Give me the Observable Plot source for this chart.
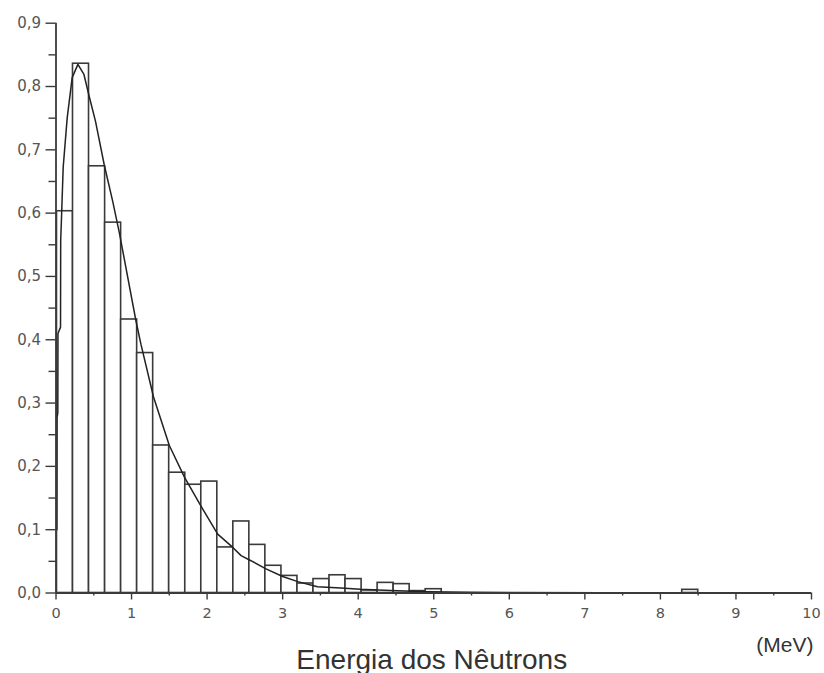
<!DOCTYPE html>
<html>
<head>
<meta charset="utf-8">
<script src="https://cdn.jsdelivr.net/npm/d3@7"></script>
<script src="https://cdn.jsdelivr.net/npm/@observablehq/plot@0.6"></script>
<style>
  html, body { margin: 0; padding: 0; background: #fff; }
</style>
</head>
<body>
<div id="chart"></div>
<script>
// Histogram bins (MeV): left and right edges, and normalized heights
const binLeft  = [0.013, 0.225, 0.437, 0.650, 0.862, 1.074, 1.286, 1.498, 1.711, 1.923, 2.135, 2.347,
                  2.559, 2.771, 2.984, 3.196, 3.408, 3.620, 3.832, 4.045, 4.257, 4.469, 4.681, 4.893, 8.289];
const binRight = [0.225, 0.437, 0.650, 0.862, 1.074, 1.286, 1.498, 1.711, 1.923, 2.135, 2.347, 2.559,
                  2.771, 2.984, 3.196, 3.408, 3.620, 3.832, 4.045, 4.257, 4.469, 4.681, 4.893, 5.105, 8.501];
const binHeight = [0.603, 0.836, 0.674, 0.585, 0.432, 0.379, 0.233, 0.190, 0.171, 0.176, 0.072, 0.113,
                   0.076, 0.043, 0.027, 0.015, 0.022, 0.028, 0.022, 0.004, 0.016, 0.014, 0.003, 0.006, 0.005];

// Fitted spectrum curve
const curveE = [0.012, 0.014, 0.024, 0.026, 0.060, 0.062, 0.073, 0.095, 0.148, 0.214, 0.290, 0.370, 0.434,
                0.523, 0.639, 0.750, 0.840, 1.058, 1.124, 1.290, 1.500, 1.700, 1.900, 2.140, 2.340,
                2.450, 2.580, 2.780, 3.000, 3.200, 3.460, 3.770, 4.030, 4.430, 4.920, 5.500, 8.500];
const curveV = [0.100, 0.277, 0.285, 0.410, 0.420, 0.556, 0.593, 0.672, 0.750, 0.814, 0.835, 0.819, 0.787,
                0.745, 0.676, 0.619, 0.568, 0.430, 0.393, 0.310, 0.233, 0.183, 0.141, 0.093, 0.072,
                0.059, 0.051, 0.038, 0.026, 0.018, 0.010, 0.008, 0.006, 0.004, 0.002, 0.001, 0.000];

const xMajor = [0, 1, 2, 3, 4, 5, 6, 7, 8, 9, 10];
const xMinor = [0.5, 1.5, 2.5, 3.5, 4.5, 5.5, 6.5, 7.5, 8.5, 9.5];
const yMajor = [0, 0.1, 0.2, 0.3, 0.4, 0.5, 0.6, 0.7, 0.8, 0.9];
const yMinor = [0.05, 0.15, 0.25, 0.35, 0.45, 0.55, 0.65, 0.75, 0.85];

const xUnit = "(MeV)";
const title = "Energia dos Nêutrons";

const bars = binLeft.map((l, i) => ({x1: l, x2: binRight[i], y: binHeight[i]}));
const curve = curveE.map((e, i) => ({e, v: curveV[i]}));

const comma = d => d.toFixed(1).replace(".", ",");
const ink = "#3a3a3a";

const chart = Plot.plot({
  width: 824,
  height: 673,
  marginLeft: 55.5,
  marginRight: 13,
  marginTop: 22.7,
  marginBottom: 80.5,
  style: {fontFamily: "DejaVu Sans", fontSize: "14.5px", color: "#555", background: "#fff"},
  x: {domain: [0, 10]},
  y: {domain: [0, 0.9]},
  marks: [
    Plot.rectY(bars, {x1: "x1", x2: "x2", y: "y", fill: "#fff", stroke: ink, strokeWidth: 1.6}),
    Plot.line(curve, {x: "e", y: "v", stroke: "#222", strokeWidth: 1.5}),
    Plot.ruleX([0], {stroke: ink, strokeWidth: 1.8}),
    Plot.ruleY([0], {stroke: ink, strokeWidth: 1.8}),
    Plot.axisY(yMajor, {tickSize: 10, tickPadding: 5, tickFormat: comma, stroke: ink, strokeWidth: 1.4, fontSize: 15, label: null}),
    Plot.axisY(yMinor, {tickSize: 7, tickFormat: () => "", stroke: ink, strokeWidth: 1.4, label: null}),
    Plot.axisX(xMajor, {tickSize: 7, tickPadding: 8, tickFormat: d => String(d), stroke: ink, strokeWidth: 1.4, label: null}),
    Plot.axisX(xMinor, {tickSize: 3, tickFormat: () => "", stroke: ink, strokeWidth: 1.4, label: null}),
    Plot.text([xUnit], {frameAnchor: "bottom-right", textAnchor: "end", lineAnchor: "bottom",
      dx: 2, dy: 58.5, fontFamily: "Liberation Sans", fontSize: 21, fill: "#333"}),
    Plot.text([title], {frameAnchor: "bottom", lineAnchor: "bottom",
      dx: -2, dy: 75.5, fontFamily: "Liberation Sans", fontSize: 28, fill: "#333"})
  ]
});

document.getElementById("chart").append(chart);
</script>
</body>
</html>
